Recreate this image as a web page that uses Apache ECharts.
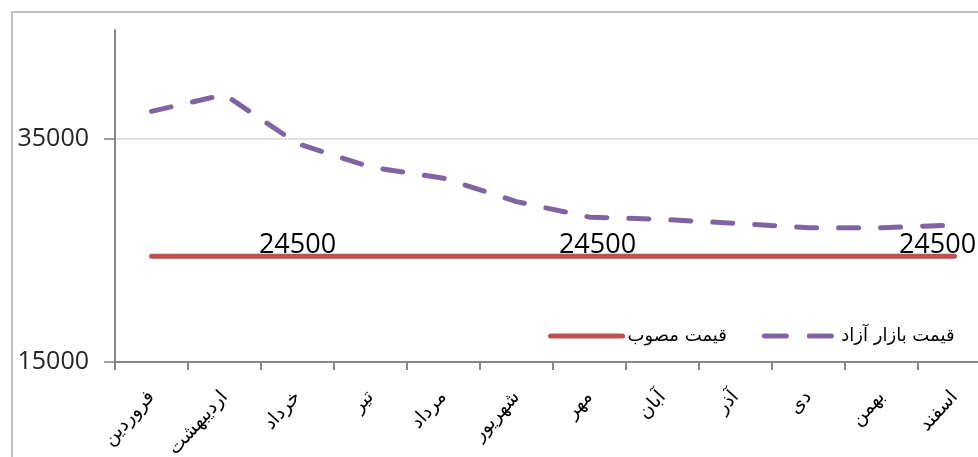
<!DOCTYPE html>
<html>
<head>
<meta charset="utf-8">
<script src="https://cdn.jsdelivr.net/npm/echarts@6/dist/echarts.min.js"></script>
<style>
html,body{margin:0;padding:0;background:#fff;overflow:hidden;width:978px;height:457px;}
#chart{width:1000px;height:457px;}
</style>
</head>
<body>
<div id="chart"></div>
<script>
const categories = ['فروردین','اردیبهشت','خرداد','تیر','مرداد','شهریور','مهر','آبان','آذر','دی','بهمن','اسفند'];
const officialPrice = [24500,24500,24500,24500,24500,24500,24500,24500,24500,24500,24500,24500];
const freeMarketPrice = [37500,39000,34600,32500,31500,29400,28000,27800,27450,27050,27050,27300];
const yTicks = [15000,35000];
const officialName = 'قیمت مصوب';
const freeName = 'قیمت بازار آزاد';
const labelIdx = [2,6,11];
const labelOffsets = {2:[0,0],6:[8,0],11:[-17,0]};

const chart = echarts.init(document.getElementById('chart'));
const latin = '"Open Sans", "Noto Sans", sans-serif';
const arabic = '"DejaVu Sans", "Noto Sans", sans-serif';
const axisGray = '#868686';

chart.setOption({
  animation:false,
  backgroundColor:'#fff',
  graphic:[{
    type:'polyline', silent:true,
    shape:{points:[[12,470],[12,12],[1000,12]]},
    style:{stroke:'#c0c0c0', lineWidth:2, fill:null}
  }],
  grid:[
    {left:115, top:30, width:876, height:332, outerBoundsMode:'none', containLabel:false},
    // label/gridline grid: same scale, extended so ticks fall on multiples of the interval
    {left:115, top:-84, width:876, height:669, outerBoundsMode:'none', containLabel:false},
    // tick-mark strip left of the value axis, same scale
    {left:104, top:-84, width:12, height:669, outerBoundsMode:'none', containLabel:false}
  ],
  legend:{
    left:543, top:322, itemWidth:72, itemHeight:14, itemGap:35,
    itemStyle:{opacity:0},
    lineStyle:{width:5, cap:'round'},
    textStyle:{fontFamily:arabic, fontSize:18, color:'#000'},
    data:[
      {name:officialName},
      {name:freeName, lineStyle:{type:[22,23], width:5, cap:'round'}}
    ]
  },
  xAxis:[
    {
      type:'category', data:categories, boundaryGap:true, gridIndex:0, z:5,
      axisLine:{lineStyle:{color:axisGray, width:2}},
      axisTick:{show:true, length:8, lineStyle:{color:axisGray, width:2}},
      axisLabel:{rotate:48, interval:0, margin:32, fontFamily:arabic, fontSize:19, color:'#000'},
      splitLine:{show:false}
    },
    {type:'category', data:categories, gridIndex:1, show:false},
    {type:'value', min:-1, max:1, gridIndex:2, show:false}
  ],
  yAxis:[
    {
      type:'value', min:15000, max:44800, gridIndex:0, z:5,
      axisLine:{show:true, lineStyle:{color:axisGray, width:2}},
      axisTick:{show:false}, axisLabel:{show:false}, splitLine:{show:false}
    },
    {
      type:'value', min:-5000, max:55000, interval:20000, gridIndex:1,
      axisLine:{show:false}, axisTick:{show:false},
      axisLabel:{margin:26, fontFamily:latin, fontSize:25, color:'#262626',
        formatter:function(v){ return yTicks.indexOf(v) >= 0 ? String(v) : ''; }},
      splitLine:{show:true, lineStyle:{color:'#d9d9d9', width:1.5}}
    },
    {
      type:'value', min:-5000, max:55000, gridIndex:2, show:false
    }
  ],
  series:[
    {
      name:officialName, type:'line', symbol:'circle', symbolSize:0, showSymbol:true,
      xAxisIndex:0, yAxisIndex:0,
      lineStyle:{color:'#c0504d', width:5, cap:'round'},
      itemStyle:{color:'#c0504d'},
      data:officialPrice.map((v,i)=>{
        const o = {value:v};
        if(labelIdx.includes(i)){
          o.label = {show:true, position:'top', distance:-3, offset:labelOffsets[i],
            fontFamily:latin, fontSize:27, color:'#000'};
        }
        return o;
      }),
      z:2
    },
    {
      name:freeName, type:'line', symbol:'none',
      xAxisIndex:0, yAxisIndex:0,
      lineStyle:{color:'#8064a2', width:5, type:[20,22], cap:'round'},
      itemStyle:{color:'#8064a2'},
      data:freeMarketPrice,
      z:3
    },
    {
      // y-axis tick marks at the labelled values
      name:'ticks', type:'scatter', xAxisIndex:2, yAxisIndex:2,
      symbol:'rect', symbolSize:[10,2], silent:true, clip:false,
      itemStyle:{color:axisGray},
      data:yTicks.map(v=>[-0.15, v]),
      z:6
    }
  ]
});
</script>
</body>
</html>
